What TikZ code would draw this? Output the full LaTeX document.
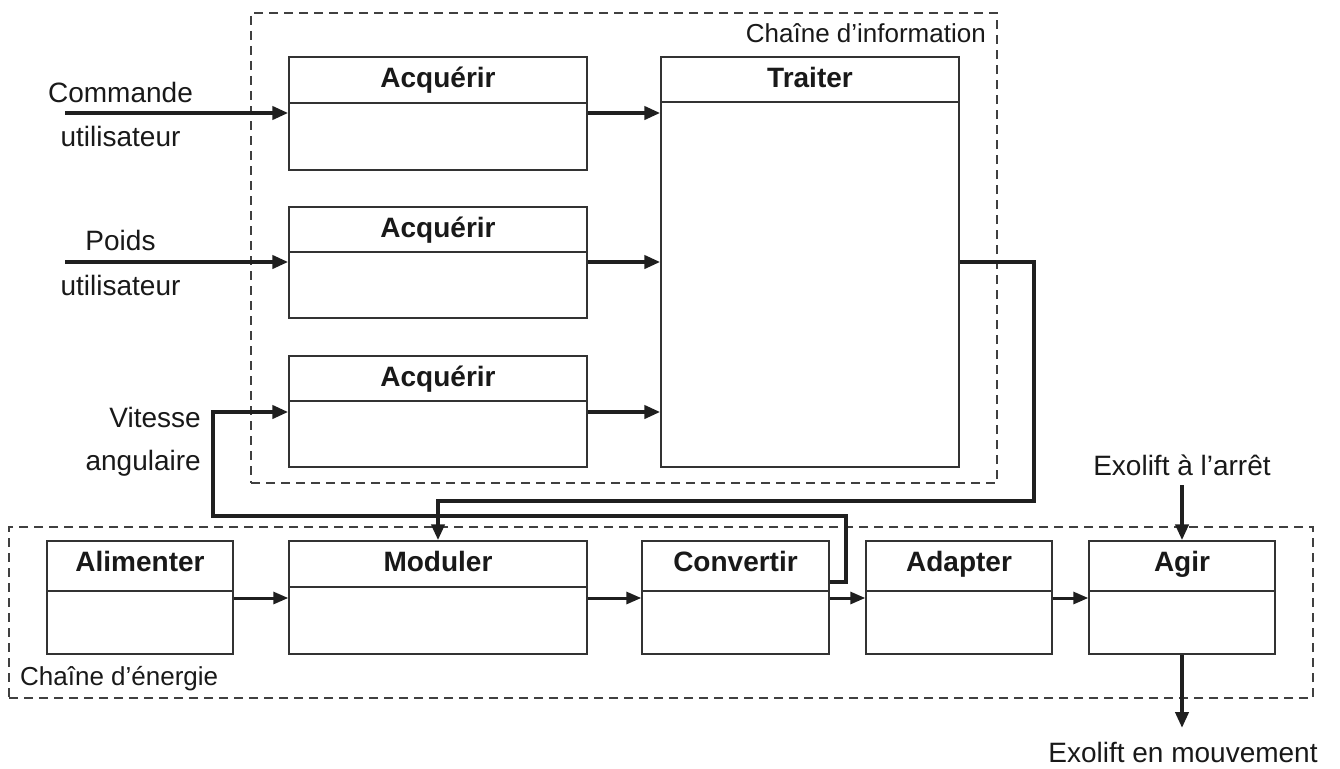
\documentclass[tikz,border=0pt]{standalone}
\usepackage{fontspec}
\setmainfont{Liberation Sans}
\usetikzlibrary{arrows.meta,calc,fit}
\newcommand\blk[7]{% name, x1, y1, x2, y2, ydiv, title
  \node[box, fit={(#2,#3) (#4,#5)}] (#1) {};
  \draw[divl] (#1.west |- 0,#6) -- (#1.east |- 0,#6);
  \node[ttl] (#1-t) at ($(#1.north)+(0,31)$) {#7};
}
\begin{document}
\begin{tikzpicture}[x=1pt,y=-1pt,
  box/.style={draw=black!80, line width=1.4pt, rectangle, inner sep=0pt},
  divl/.style={draw=black!80, line width=1.4pt},
  ttl/.style={font=\fontsize{28}{32}\selectfont\bfseries, anchor=base, text=black!90, inner sep=0pt},
  lbl/.style={font=\fontsize{28}{32}\selectfont, anchor=base, text=black!90, inner sep=0pt},
  clbl/.style={font=\fontsize{26}{30}\selectfont, text=black!90, inner sep=0pt},
  chain/.style={draw=black!75, line width=1.1pt, dash pattern=on 9pt off 6pt, rectangle, inner sep=0pt},
  arr/.style={line width=4pt, draw=black!88, -{Triangle[length=16pt,width=13pt]}},
  arrs/.style={line width=3pt, draw=black!88, -{Triangle[length=15pt,width=12pt]}},
  wire/.style={line width=4.5pt, draw=black!88, line join=miter, -{Triangle[length=16pt,width=13pt]}}
]
\useasboundingbox (0,0) rectangle (1340,768);
\fill[white] (0,0) rectangle (1340,768);

% chains
\node[chain, fit={(251,13) (997,483)}] (info) {};
\node[chain, fit={(9,527) (1313,698)}] (energy) {};
\node[clbl, anchor=base east] (infolbl) at (986,42) {Chaîne d’information};
\node[clbl, anchor=base west] (enlbl) at (20,685) {Chaîne d’énergie};

% blocks
\blk{a1}{289}{57}{587}{170}{103}{Acquérir}
\blk{a2}{289}{207}{587}{318}{252}{Acquérir}
\blk{a3}{289}{356}{587}{467}{401}{Acquérir}
\blk{tr}{661}{57}{959}{467}{102}{Traiter}
\blk{al}{47}{541}{233}{654}{591}{Alimenter}
\blk{mo}{289}{541}{587}{654}{587}{Moduler}
\blk{co}{642}{541}{829}{654}{591}{Convertir}
\blk{ad}{866}{541}{1052}{654}{591}{Adapter}
\blk{ag}{1089}{541}{1275}{654}{591}{Agir}

% input labels
\node[lbl] (cmd1) at (120.5,102) {Commande};
\node[lbl] (cmd2) at (120.5,146) {utilisateur};
\node[lbl] (pds1) at (120.5,250) {Poids};
\node[lbl] (pds2) at (120.5,295) {utilisateur};
\node[lbl, anchor=base east] (vit1) at (201,427) {Vitesse};
\node[lbl, anchor=base east] (vit2) at (201,470) {angulaire};
\node[lbl] (stop) at (1182,475) {Exolift à l’arrêt};
\node[lbl] (move) at (1183,762) {Exolift en mouvement};

\coordinate (cmdin) at (65,113);
\coordinate (pdsin) at (65,262);

% information arrows
\draw[arr] (cmdin) -- (a1.west |- cmdin);
\draw[arr] (pdsin) -- (a2.west |- pdsin);
\draw[arr] (a1.east |- 0,113) -- (tr.west |- 0,113);
\draw[arr] (a2.east |- 0,262) -- (tr.west |- 0,262);
\draw[arr] (a3.east |- 0,412) -- (tr.west |- 0,412);

% feedback wires
\draw[wire] (co.east |- 0,582) -- (846,582) -- (846,516) -- (213,516) -- (213,412) -- (a3.west |- 0,412);
\draw[wire] (tr.east |- 0,262) -- (1034,262) -- (1034,501) -- (mo.north |- 0,501) -- (mo.north);

% energy arrows
\draw[arrs] (al.east |- 0,598) -- (mo.west |- 0,598);
\draw[arrs] (mo.east |- 0,598) -- (co.west |- 0,598);
\draw[arrs] (co.east |- 0,598) -- (ad.west |- 0,598);
\draw[arrs] (ad.east |- 0,598) -- (ag.west |- 0,598);

% Agir in/out
\coordinate (stopin) at (ag.north |- 0,485);
\coordinate (moveout) at (ag.south |- 0,728);
\draw[arr] (stopin) -- (ag.north);
\draw[arr] (ag.south) -- (moveout);
\end{tikzpicture}
\end{document}
